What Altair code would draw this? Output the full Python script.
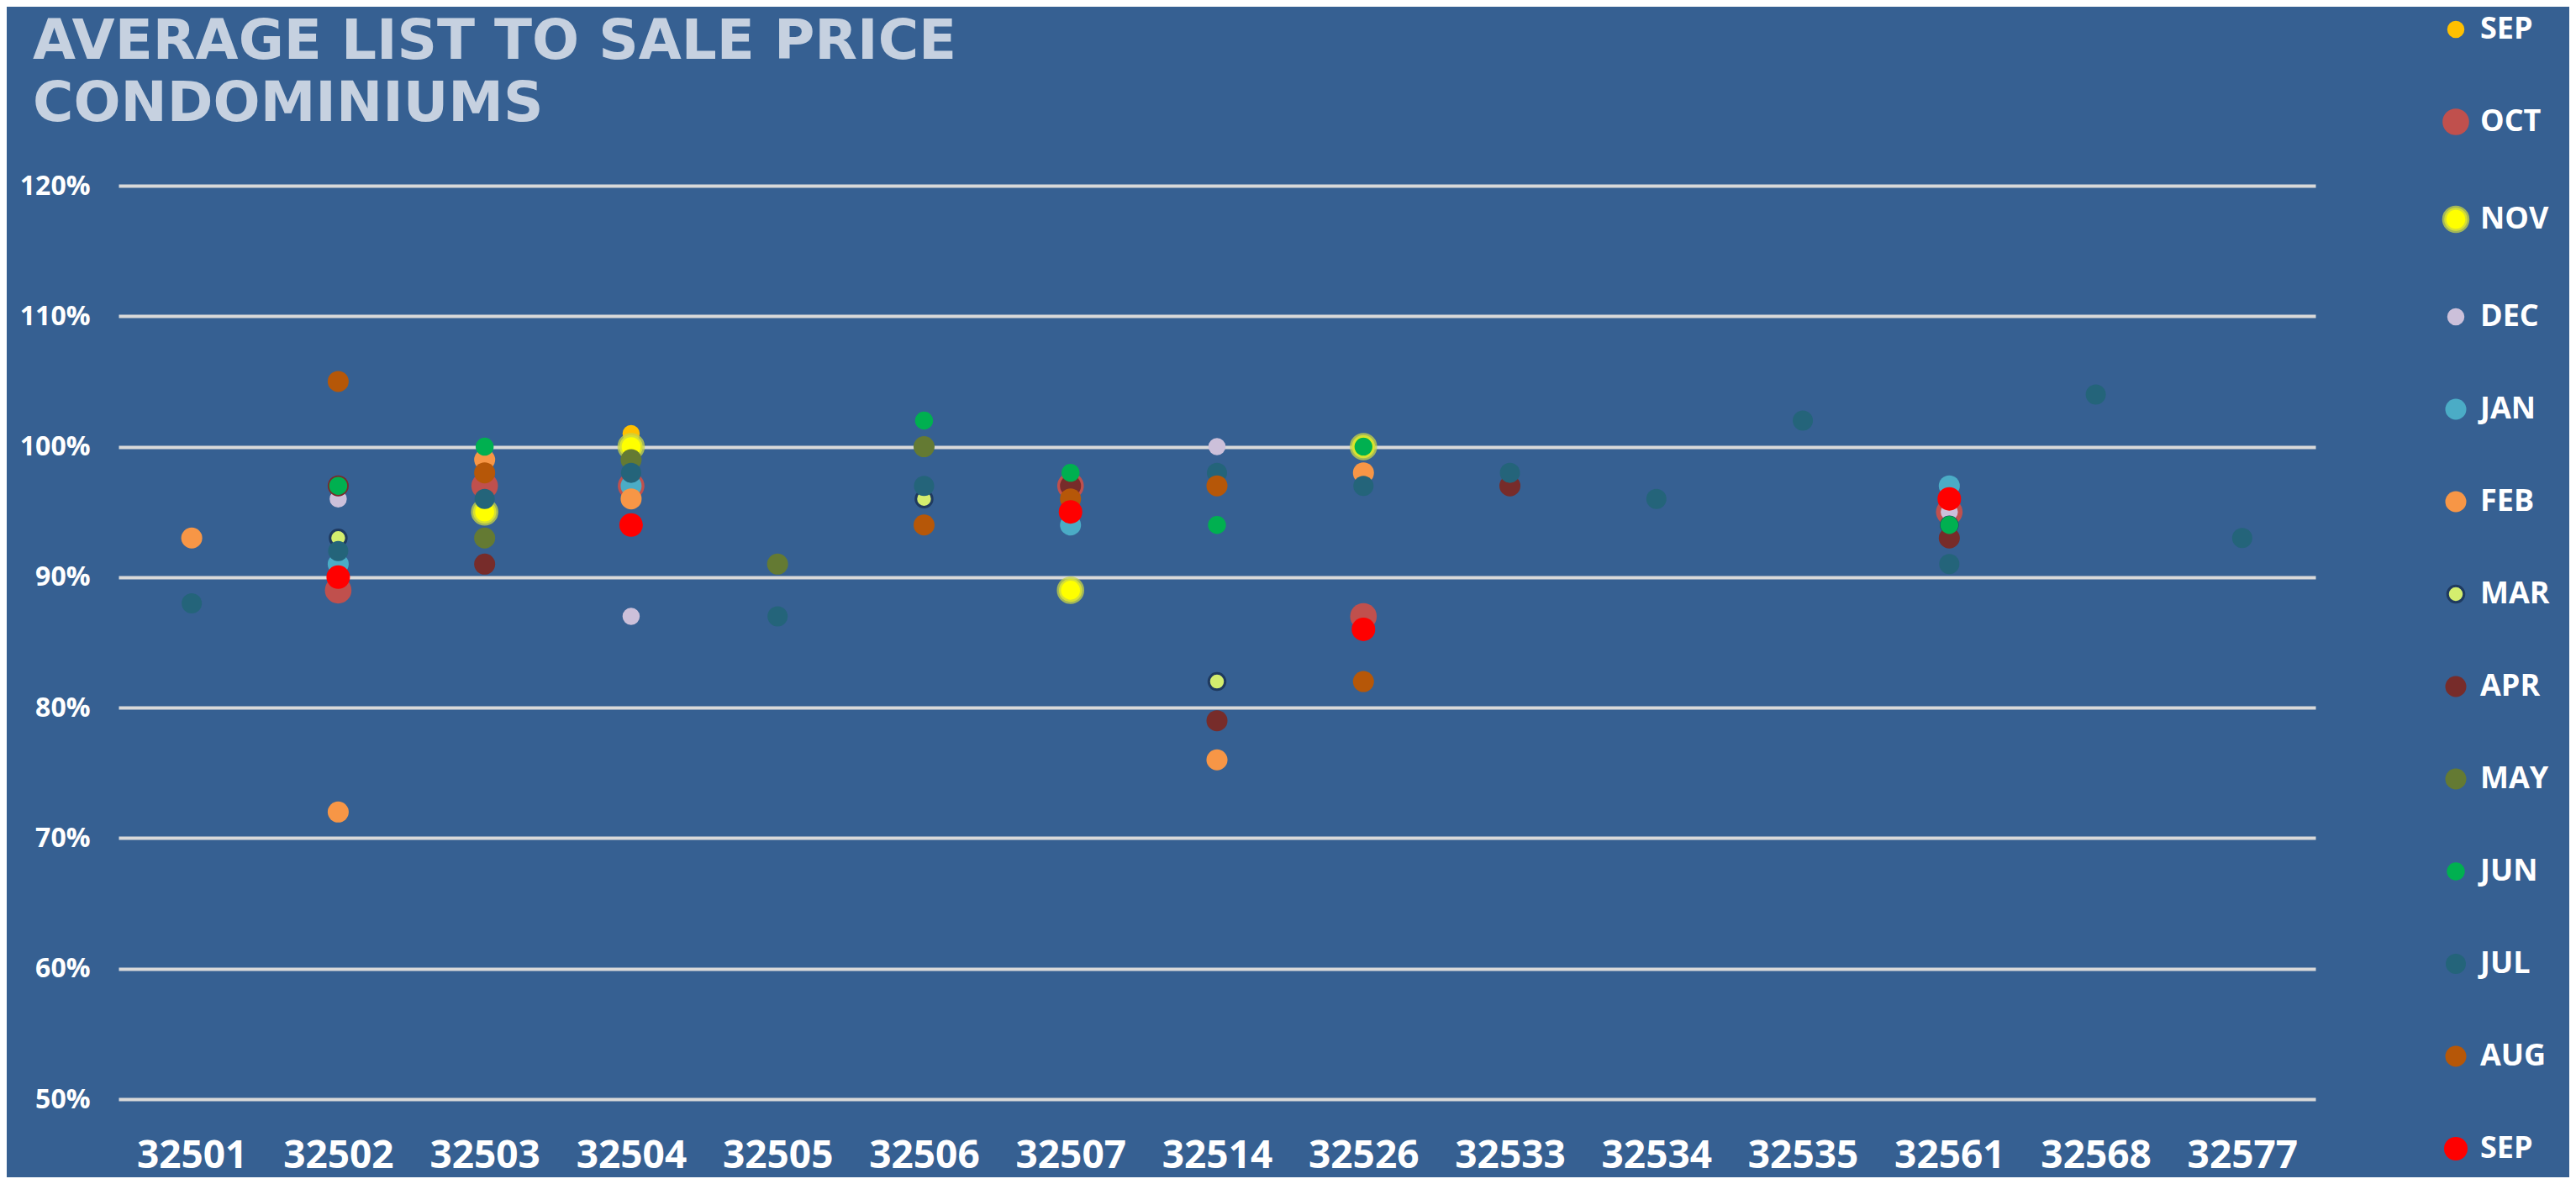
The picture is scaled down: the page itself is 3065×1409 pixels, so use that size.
import altair as alt
import pandas as pd

zips = ["32501", "32502", "32503", "32504", "32505", "32506", "32507", "32514",
        "32526", "32533", "32534", "32535", "32561", "32568", "32577"]

# values in percent, aligned with zips (None = no point)
sep_a = [None, None, None, 101, None, None, None, None, None, None, None, None, None, None, None]
oct_ = [None, 89, 97, 97, None, None, 97, None, 87, None, None, None, 95, None, None]
nov = [None, None, 95, 100, None, None, 89, None, 100, None, None, None, None, None, None]
dec = [None, 96, None, 87, None, None, None, 100, None, None, None, None, 95, None, None]
jan = [None, 91, None, 97, None, None, 94, None, None, None, None, None, 97, None, None]
feb = [93, 72, 99, 96, None, None, None, 76, 98, None, None, None, None, None, None]
mar = [None, 93, None, None, None, 96, None, 82, None, None, None, None, 94, None, None]
apr = [None, 97, 91, None, None, None, 97, 79, None, 97, None, None, 93, None, None]
may = [None, None, 93, 99, 91, 100, None, None, None, None, None, None, None, None, None]
jun = [None, 97, 100, None, None, 102, 98, 94, 100, None, None, None, 94, None, None]
jul = [88, 92, 96, 98, 87, 97, None, 98, 97, 98, 96, 102, 91, 104, 93]
aug = [None, 105, 98, None, None, 94, 96, 97, 82, None, None, None, None, None, None]
sep_b = [None, 90, None, 94, None, None, 95, None, 86, None, None, None, 96, None, None]

series_ids = ["SEP_a", "OCT", "NOV", "DEC", "JAN", "FEB", "MAR", "APR", "MAY",
              "JUN", "JUL", "AUG", "SEP_b"]
series_vals = [sep_a, oct_, nov, dec, jan, feb, mar, apr, may, jun, jul, aug, sep_b]

colors = ["#FFC000", "#C0504D", "#FFFF00", "#CCC0DA", "#4BACC6", "#F79646", "#D4EE6E",
          "#772C2A", "#647A33", "#00B050", "#24647A", "#B65708", "#FF0000"]
sizes = [420, 1000, 760, 420, 625, 625, 380, 625, 625, 460, 576, 625, 784]
strokes = ["transparent", "transparent", "rgba(200,212,70,0.75)", "transparent", "transparent",
           "transparent", "#1F3A5F", "transparent", "transparent", "transparent",
           "transparent", "transparent", "transparent"]
stroke_widths = [0, 0, 5, 0, 0, 0, 3, 0, 0, 0, 0, 0, 0]

rows = []
for sid, vals in zip(series_ids, series_vals):
    for z, v in zip(zips, vals):
        if v is not None:
            rows.append({"zip": z, "series": sid, "value": v / 100.0})
df = pd.DataFrame(rows)

legend = alt.Legend(
    orient="none", legendX=2763, legendY=-204, title=None,
    labelFont="Open Sans", labelFontWeight="bold", labelFontSize=36,
    labelColor="white", rowPadding=74, symbolType="circle", labelOffset=11,
    labelExpr="split(datum.label, '_')[0]",
)

series_field = "series:N"

chart = alt.Chart(df).mark_point(filled=True, opacity=1).encode(
    x=alt.X("zip:N", sort=zips, scale=alt.Scale(type="point", padding=0.5),
            axis=alt.Axis(title=None, labelAngle=0, labelFont="Open Sans",
                          labelFontWeight="bold", labelFontSize=46, labelColor="white",
                          labelPadding=45, ticks=False, tickSize=0, domain=False, grid=False)),
    y=alt.Y("value:Q", scale=alt.Scale(domain=[0.5, 1.2], nice=False, zero=False),
            axis=alt.Axis(title=None, format=".0%", values=[0.5, 0.6, 0.7, 0.8, 0.9, 1.0, 1.1, 1.2],
                          labelFont="Open Sans", labelFontWeight="bold", labelFontSize=32,
                          labelColor="white", labelPadding=34, ticks=False, tickSize=0,
                          domain=False, grid=True, gridColor="#D9D9D9", gridWidth=4,
                          gridOpacity=1)),
    color=alt.Color(series_field, scale=alt.Scale(domain=series_ids, range=colors), legend=legend),
    size=alt.Size(series_field, scale=alt.Scale(type="ordinal", domain=series_ids, range=sizes),
                  legend=legend),
    stroke=alt.Stroke(series_field, scale=alt.Scale(domain=series_ids, range=strokes), legend=legend),
    strokeWidth=alt.StrokeWidth(series_field,
                                scale=alt.Scale(type="ordinal", domain=series_ids, range=stroke_widths),
                                legend=legend),
).properties(
    width=2614,
    height=1087,
    title=alt.Title(["AVERAGE LIST TO SALE PRICE", "CONDOMINIUMS"], anchor="start", frame="group",
                    font="DejaVu Sans", fontSize=66, fontWeight="bold", color="#C6D1E0",
                    lineHeight=74, dx=-102, offset=0, dy=141),
    background="#366092",
    padding={"left": 133, "top": 213, "right": 302, "bottom": 93},
    autosize=alt.AutoSizeParams(type="none"),
).configure_view(stroke=None)

chart.save("out.html", embed_options={"renderer": "svg", "actions": False})
